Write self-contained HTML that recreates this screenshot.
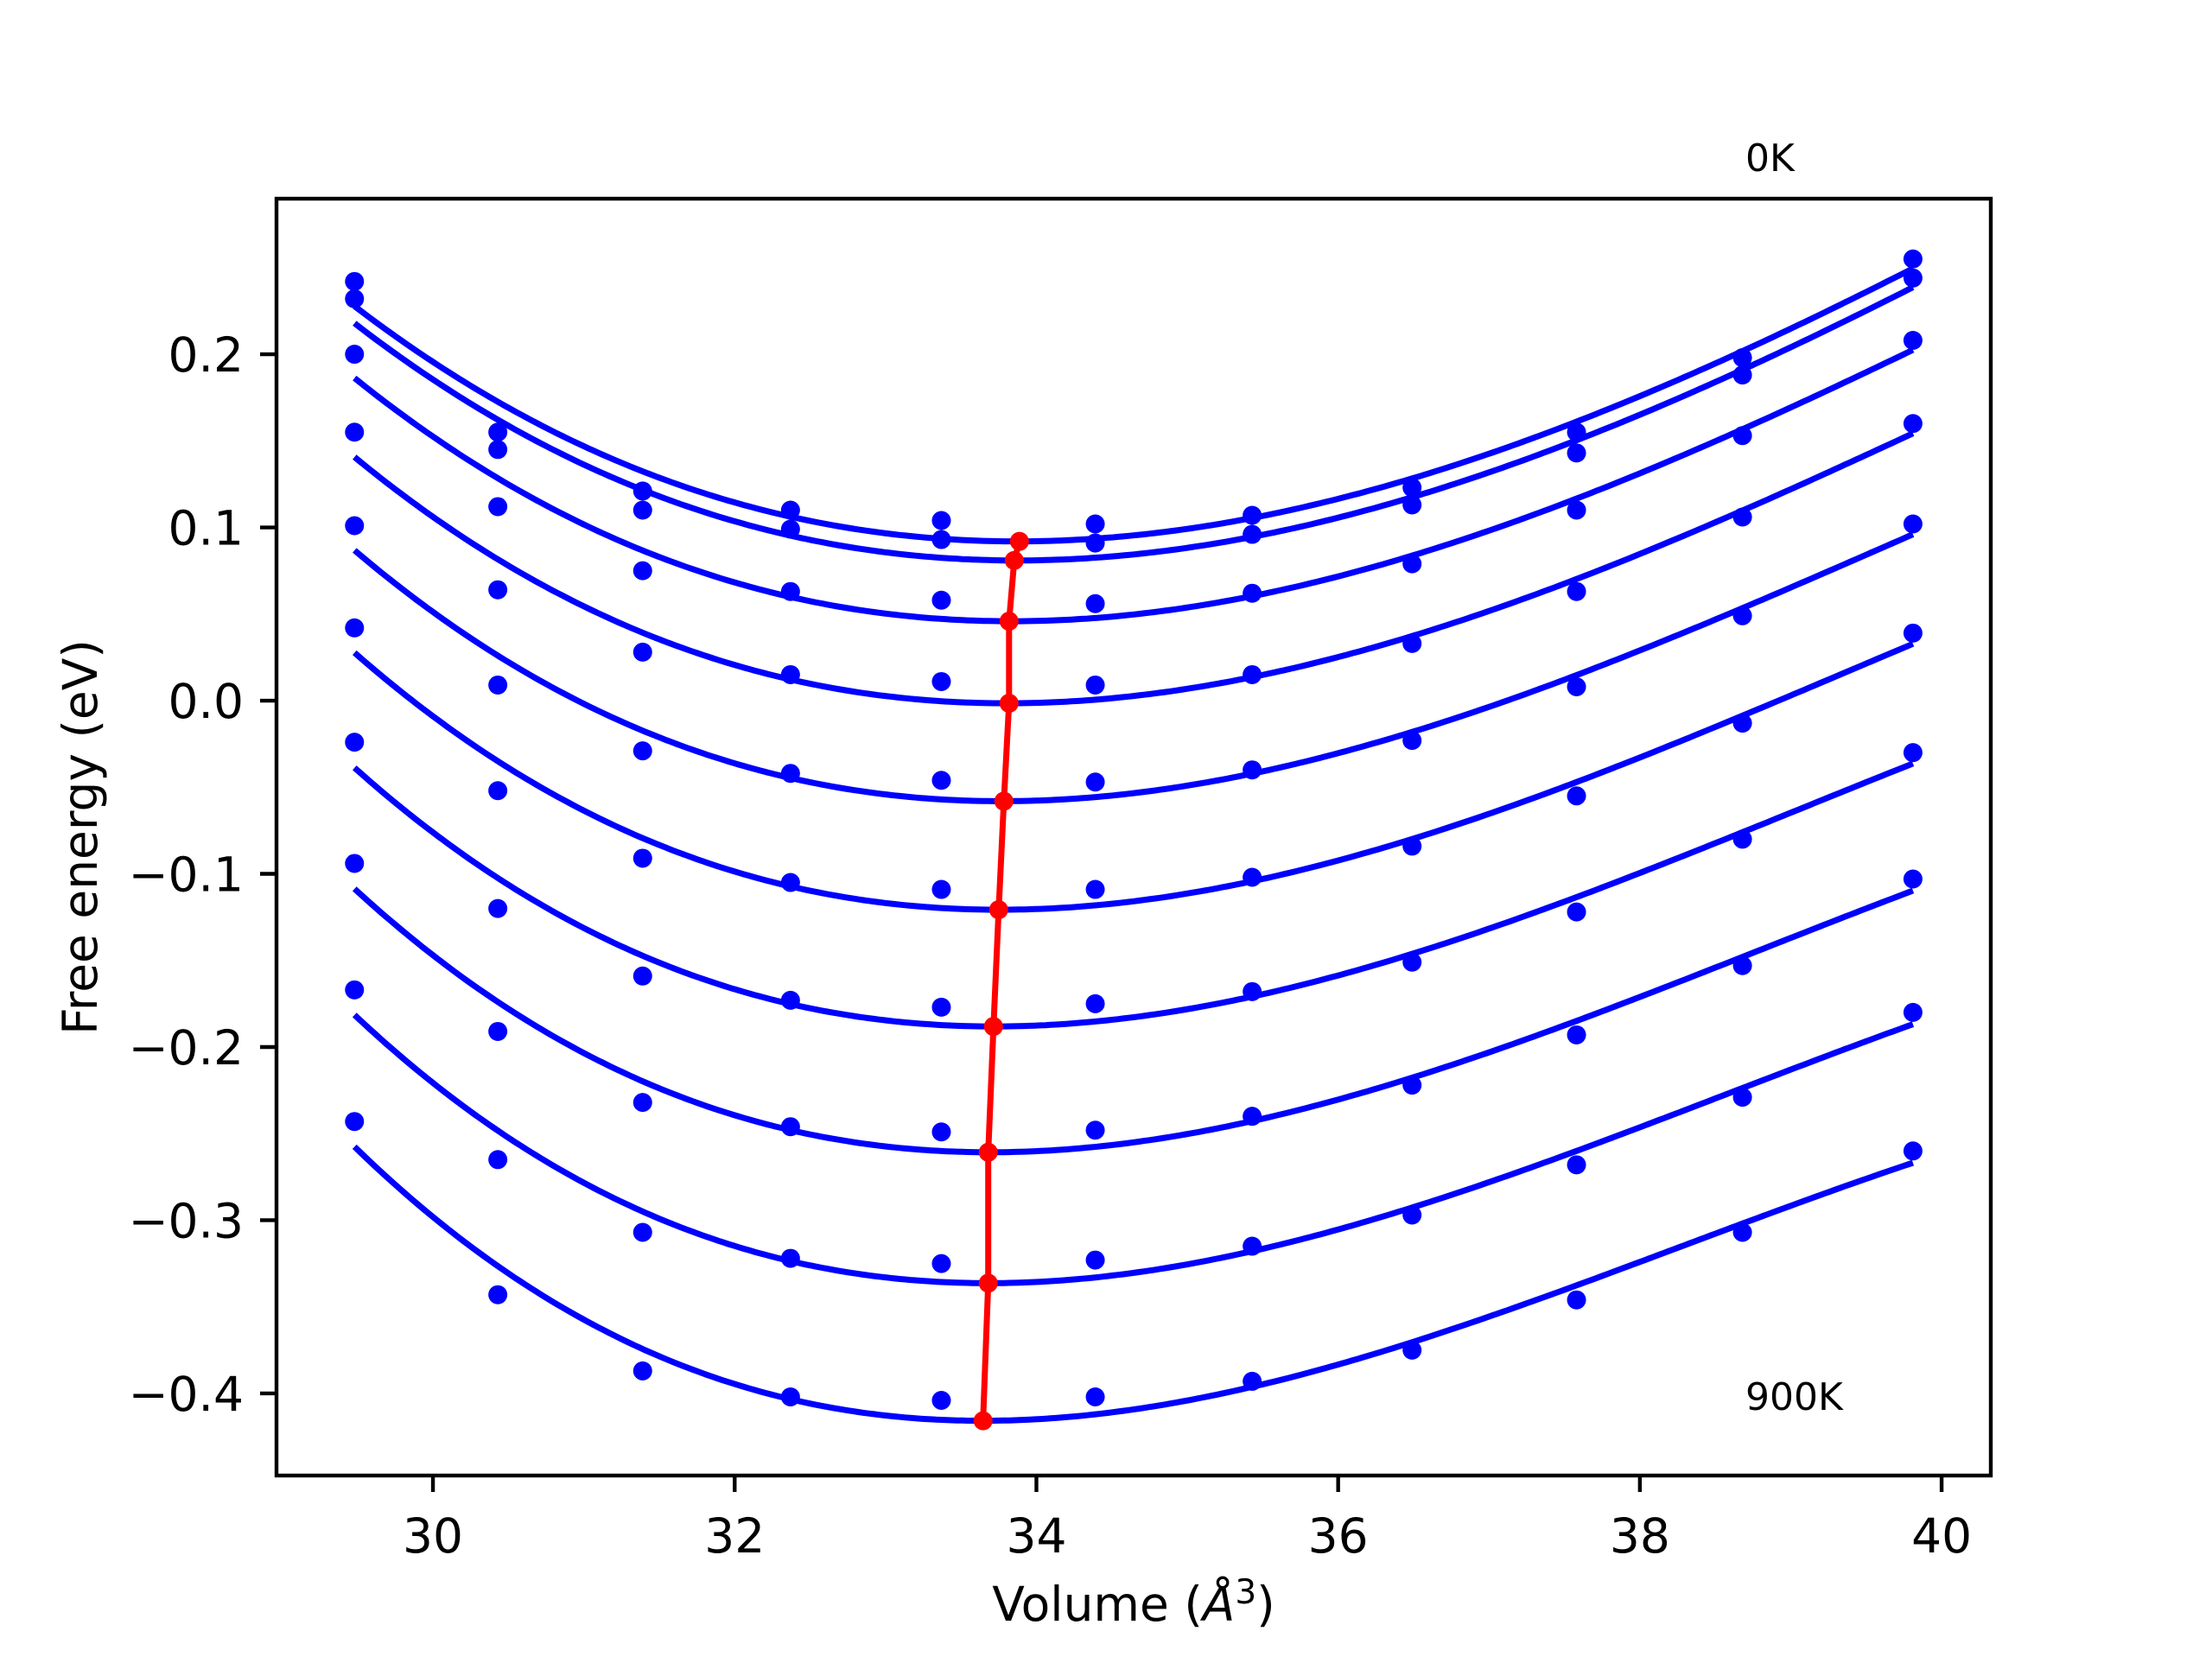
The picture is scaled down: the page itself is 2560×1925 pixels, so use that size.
<!DOCTYPE html>
<html><head><meta charset="utf-8"><style>
html,body{margin:0;padding:0;background:#fff;}
svg text{font-family:"DejaVu Sans","Liberation Sans",sans-serif;}
</style></head><body>
<svg id="chart" width="2560" height="1920" viewBox="0 0 2560 1920" xmlns="http://www.w3.org/2000/svg">
<rect width="2560" height="1920" fill="#fff"/>
<g id="plot"></g>
<g id="axes"></g>
</svg>
<script>
const volumes=[29.48,30.43,31.39,32.37,33.37,34.39,35.43,36.49,37.58,38.68,39.81];
const temperatures=["0K","100K","200K","300K","400K","500K","600K","700K","800K","900K"];
// energies[t][v]
const e0K=[0.242,0.155,0.121,0.110,0.104,0.102,0.107,0.123,0.155,0.198,0.255];
const e100K=[0.232,0.145,0.110,0.099,0.093,0.091,0.096,0.113,0.143,0.188,0.244];
const e200K=[0.200,0.112,0.075,0.063,0.058,0.056,0.062,0.079,0.110,0.153,0.208];
const e300K=[0.155,0.064,0.028,0.015,0.011,0.009,0.015,0.033,0.063,0.106,0.160];
const e400K=[0.101,0.009,-0.029,-0.042,-0.046,-0.047,-0.040,-0.023,0.008,0.049,0.102];
const e500K=[0.042,-0.052,-0.091,-0.105,-0.109,-0.109,-0.102,-0.084,-0.055,-0.013,0.039];
const e600K=[-0.024,-0.120,-0.159,-0.173,-0.177,-0.175,-0.168,-0.151,-0.122,-0.080,-0.030];
const e700K=[-0.094,-0.191,-0.232,-0.246,-0.249,-0.248,-0.240,-0.222,-0.193,-0.153,-0.103];
const e800K=[-0.167,-0.265,-0.307,-0.322,-0.325,-0.323,-0.315,-0.297,-0.268,-0.229,-0.180];
const e900K=[-0.243,-0.343,-0.387,-0.402,-0.404,-0.402,-0.393,-0.375,-0.346,-0.307,-0.260];
const energies=[e0K,e100K,e200K,e300K,e400K,e500K,e600K,e700K,e800K,e900K];
const xTicks=[30,32,34,36,38,40];
const yTicks=[-0.4,-0.3,-0.2,-0.1,0.0,0.1,0.2];
const yTickLabels=["\u22120.4","\u22120.3","\u22120.2","\u22120.1","0.0","0.1","0.2"];

const L=320,R=2304,T=230,B=1708;
const XMIN=28.963,XMAX=40.326,YMIN=-0.4474,YMAX=0.2898;
const sx=v=>L+(v-XMIN)/(XMAX-XMIN)*(R-L);
const sy=e=>B-(e-YMIN)/(YMAX-YMIN)*(B-T);
const NS="http://www.w3.org/2000/svg";
function mk(tag,attrs,parent){const el=document.createElementNS(NS,tag);for(const k in attrs)el.setAttribute(k,attrs[k]);parent.appendChild(el);return el;}
const plot=document.getElementById('plot'),axes=document.getElementById('axes');

// cubic least-squares fit (centered)
const vc=volumes.reduce((a,b)=>a+b,0)/volumes.length;
function fit(ys){
  const n=4,A=[],b=[];
  for(let i=0;i<n;i++){A.push(new Array(n).fill(0));b.push(0);}
  volumes.forEach((v,k)=>{const x=v-vc;for(let i=0;i<n;i++){b[i]+=ys[k]*Math.pow(x,i);for(let j=0;j<n;j++)A[i][j]+=Math.pow(x,i+j);}});
  for(let i=0;i<n;i++){let p=i;for(let r=i+1;r<n;r++)if(Math.abs(A[r][i])>Math.abs(A[p][i]))p=r;[A[i],A[p]]=[A[p],A[i]];[b[i],b[p]]=[b[p],b[i]];
    for(let r=0;r<n;r++){if(r===i)continue;const f=A[r][i]/A[i][i];for(let c=i;c<n;c++)A[r][c]-=f*A[i][c];b[r]-=f*b[i];}}
  const c=b.map((v,i)=>v/A[i][i]);
  return v=>{const x=v-vc;return c[0]+c[1]*x+c[2]*x*x+c[3]*x*x*x;};
}
const minima=[];
energies.forEach((ys,t)=>{
  const f=fit(ys);
  const v0=volumes[0],v1=volumes[volumes.length-1];
  let d="",best=null;
  for(let i=0;i<=300;i++){const v=v0+(v1-v0)*i/300;const e=f(v);d+=(i?"L":"M")+sx(v).toFixed(1)+","+sy(e).toFixed(1);if(!best||e<best[1])best=[v,e];}
  const p=mk('path',{d:d,fill:'none',stroke:'#0000ff','stroke-width':7},plot);
  
  
  ys.forEach((e,k)=>{const c=mk('circle',{cx:sx(volumes[k]),cy:sy(e),r:11,fill:'#0000ff'},plot);
    
    });
  minima.push(best);
});
const md=minima.map((m,i)=>(i?"L":"M")+sx(m[0]).toFixed(1)+","+sy(m[1]).toFixed(1)).join("");
const ml=mk('path',{d:md,fill:'none',stroke:'#ff0000','stroke-width':7},plot);


minima.forEach(m=>{const c=mk('circle',{cx:sx(m[0]),cy:sy(m[1]),r:11,fill:'#ff0000'},plot);
  
  });

const frame=mk('rect',{x:L,y:T,width:R-L,height:B-T,fill:'none',stroke:'#000','stroke-width':4.4},axes);


xTicks.forEach(v=>{const x=sx(v);
  const tk=mk('line',{x1:x,x2:x,y1:B,y2:B+19,stroke:'#000','stroke-width':4.4},axes);
  
  
  const tx=mk('text',{x:x,y:B+89,'font-size':55,'text-anchor':'middle'},axes);tx.textContent=String(v);
  
  });
yTicks.forEach((e,i)=>{const y=sy(e);
  const tk=mk('line',{x1:L-19,x2:L,y1:y,y2:y,stroke:'#000','stroke-width':4.4},axes);
  
  
  const tx=mk('text',{x:L-38,y:y+20,'font-size':55,'text-anchor':'end'},axes);tx.textContent=yTickLabels[i];
  
  });
</script>
<svg style="position:absolute;left:0;top:0" width="2560" height="1920" xmlns="http://www.w3.org/2000/svg">
<text x="1312" y="1876" font-size="55" text-anchor="middle" font-family="DejaVu Sans, sans-serif">Volume (<tspan font-style="italic">Å</tspan><tspan dy="-20" font-size="39">3</tspan><tspan dy="20">)</tspan></text>
<text transform="translate(112,969) rotate(-90)" font-size="55" text-anchor="middle" font-family="DejaVu Sans, sans-serif">Free energy (eV)</text>
<text x="2020" y="198" font-size="44" font-family="DejaVu Sans, sans-serif">0K</text>
<text x="2020" y="1632" font-size="44" font-family="DejaVu Sans, sans-serif">900K</text>
</svg>
</body></html>
